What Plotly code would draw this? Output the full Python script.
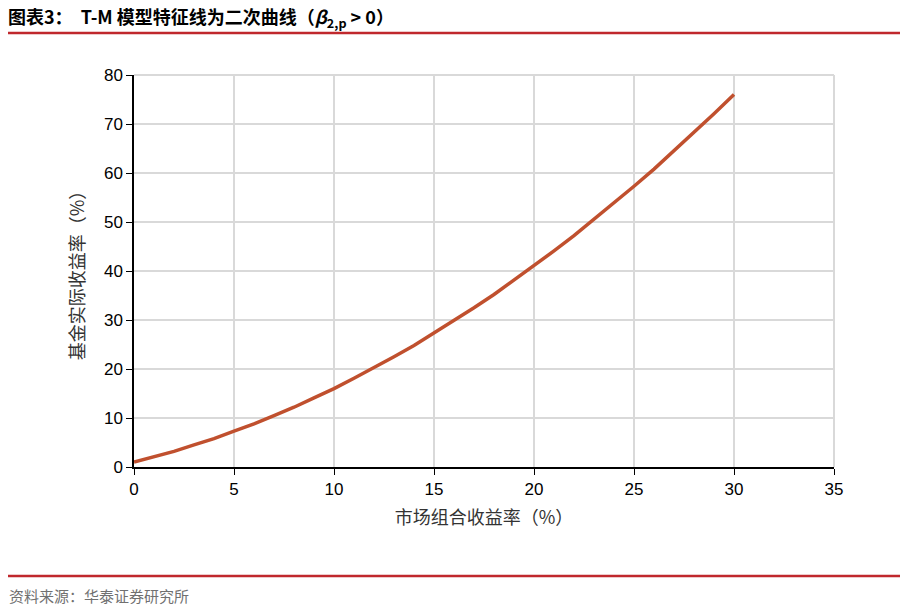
import plotly.graph_objects as go

# 市场组合收益率 (%) 与 基金实际收益率 (%)，读自原图
market_return = [0, 1, 2, 3, 4, 5, 6, 7, 8, 9, 10, 11, 12, 13, 14, 15,
                 16, 17, 18, 19, 20, 21, 22, 23, 24, 25, 26, 27, 28, 29, 30]
fund_return = [1.0, 2.1, 3.2, 4.5, 5.8, 7.3, 8.8, 10.5, 12.2, 14.1, 16.0,
               18.1, 20.2, 22.5, 24.8, 27.3, 29.8, 32.5, 35.2, 38.1, 41.0,
               44.1, 47.2, 50.5, 53.8, 57.3, 60.8, 64.5, 68.2, 72.1, 76.0]

x_ticks = [0, 5, 10, 15, 20, 25, 30, 35]
y_ticks = [0, 10, 20, 30, 40, 50, 60, 70, 80]

title_text = "<b>图表3：  T-M 模型特征线为二次曲线（<i>β</i><sub>2,p</sub> &gt; 0）</b>"
source_text = "资料来源：华泰证券研究所"

RED = "#C0282D"
LINE = "#C0502E"
GRID = "#D9D9D9"
CJK = "Noto Sans CJK SC"
NUM = "Liberation Sans, Arial"

fig = go.Figure()
fig.add_trace(go.Scatter(
    x=market_return, y=fund_return, mode="lines",
    line=dict(color=LINE, width=3.5), showlegend=False, hoverinfo="skip",
))

axis_common = dict(
    showgrid=True, gridcolor=GRID, gridwidth=2,
    showline=True, linecolor="black", linewidth=1.5,
    ticks="outside", ticklen=6, tickcolor="black", tickwidth=1,
    tickfont=dict(family=NUM, size=17, color="black"),
    zeroline=False, fixedrange=True,
)
fig.update_xaxes(range=[0, 35], tickvals=x_ticks, **axis_common,
                 title=dict(text="市场组合收益率（%）", standoff=13,
                            font=dict(family=CJK, size=18, color="#333333")))
fig.update_yaxes(range=[0, 80], tickvals=y_ticks, **axis_common,
                 title=dict(text="基金实际收益率（%）", standoff=15,
                            font=dict(family=CJK, size=18, color="#333333")))

# 右侧与顶部的网格边框
fig.add_shape(type="line", xref="paper", yref="paper", x0=1, x1=1, y0=0, y1=1,
              line=dict(color=GRID, width=2), layer="below")
fig.add_shape(type="line", xref="paper", yref="paper", x0=0, x1=1, y0=1, y1=1,
              line=dict(color=GRID, width=2), layer="below")

# 标题和来源下的红线
fig.add_shape(type="line", xref="paper", yref="paper", x0=-0.181, x1=1.099,
              y0=1.107, y1=1.107, line=dict(color=RED, width=2.5))
fig.add_shape(type="line", xref="paper", yref="paper", x0=-0.181, x1=1.099,
              y0=-0.278, y1=-0.278, line=dict(color=RED, width=2.5))

fig.add_annotation(text=title_text, xref="paper", yref="paper", x=-0.183, y=1.146,
                   xanchor="left", yanchor="middle", showarrow=False,
                   font=dict(family=CJK, size=18, color="black"))
fig.add_annotation(text=source_text, xref="paper", yref="paper", x=-0.181, y=-0.329,
                   xanchor="left", yanchor="middle", showarrow=False,
                   font=dict(family=CJK, size=15, color="#707070"))

fig.update_layout(
    width=908, height=612,
    margin=dict(l=126, r=82, t=67, b=153),
    paper_bgcolor="white", plot_bgcolor="white",
)

fig.write_html("out.html")
